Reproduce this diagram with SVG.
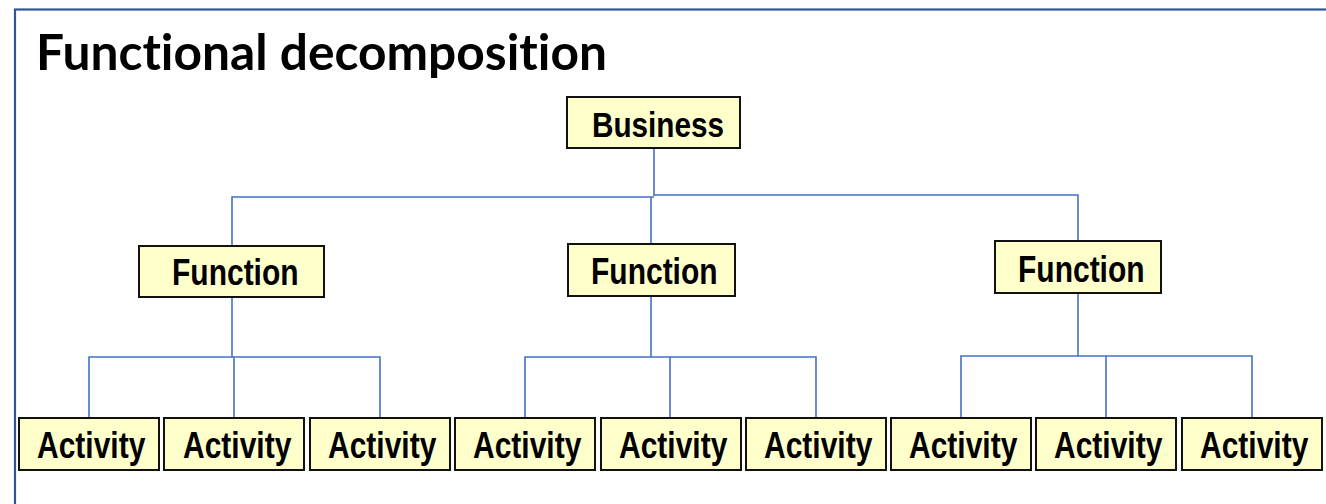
<svg xmlns="http://www.w3.org/2000/svg" width="1326" height="504" viewBox="0 0 1326 504">
<style>
.box{fill:#FFFFCC;stroke:#111;stroke-width:2}
.lbl{font-family:"Liberation Sans",Arial,sans-serif;font-weight:bold;font-size:30px;fill:#000}
.con{fill:none;stroke:#4472C4;stroke-width:1.6}
.title{font-family:Lato,"Open Sans",sans-serif;font-weight:bold;font-size:49px;fill:#000;font-variant-ligatures:none;font-feature-settings:"liga" 0,"dlig" 0}
</style>
<rect x="0" y="0" width="1326" height="504" fill="#fff"/>
<rect x="15" y="9.5" width="1400" height="600" fill="none" stroke="#2F5597" stroke-width="2.2"/>
<text class="title" x="36" y="70" textLength="571" lengthAdjust="spacingAndGlyphs">Functional decomposition</text>
<g id="connectors">
<path class="con" d="M654,148 V196" stroke-width="2"/>
<path class="con" d="M654,195 H1078 V241"/>
<path class="con" d="M232,246 V197 H654"/>
<path class="con" d="M651,197 V244"/>
<path class="con" d="M232,297 V357" stroke-width="2"/>
<path class="con" d="M89,418 V357 H380 V418"/>
<path class="con" d="M234,357 V418"/>
<path class="con" d="M651,296 V357" stroke-width="2"/>
<path class="con" d="M525,418 V357 H816 V418"/>
<path class="con" d="M670,357 V418"/>
<path class="con" d="M1078,293 V356" stroke-width="2"/>
<path class="con" d="M961,418 V356 H1252 V418"/>
<path class="con" d="M1106,356 V418"/>
</g>
<g id="business"><rect class="box" x="567" y="97" width="173" height="51"/><text class="lbl" transform="translate(592,137) scale(0.99,1.2)">Business</text></g>
<g id="function1"><rect class="box" x="139" y="246" width="185" height="51"/><text class="lbl" transform="translate(172,285) scale(1,1.2)">Function</text></g>
<g id="function2"><rect class="box" x="568" y="244" width="167" height="52"/><text class="lbl" transform="translate(591,284) scale(1,1.2)">Function</text></g>
<g id="function3"><rect class="box" x="995" y="241" width="166" height="52"/><text class="lbl" transform="translate(1018,282) scale(1,1.2)">Function</text></g>
<g id="activity1"><rect class="box" x="19" y="418" width="140" height="52"/><text class="lbl" transform="translate(37,458) scale(1,1.2)">Activity</text></g>
<g id="activity2"><rect class="box" x="164" y="418" width="140" height="52"/><text class="lbl" transform="translate(183,458) scale(1,1.2)">Activity</text></g>
<g id="activity3"><rect class="box" x="310" y="418" width="140" height="52"/><text class="lbl" transform="translate(328,458) scale(1,1.2)">Activity</text></g>
<g id="activity4"><rect class="box" x="455" y="418" width="140" height="52"/><text class="lbl" transform="translate(473,458) scale(1,1.2)">Activity</text></g>
<g id="activity5"><rect class="box" x="601" y="418" width="140" height="52"/><text class="lbl" transform="translate(619,458) scale(1,1.2)">Activity</text></g>
<g id="activity6"><rect class="box" x="746" y="418" width="140" height="52"/><text class="lbl" transform="translate(764,458) scale(1,1.2)">Activity</text></g>
<g id="activity7"><rect class="box" x="891" y="418" width="140" height="52"/><text class="lbl" transform="translate(909,458) scale(1,1.2)">Activity</text></g>
<g id="activity8"><rect class="box" x="1036" y="418" width="140" height="52"/><text class="lbl" transform="translate(1054,458) scale(1,1.2)">Activity</text></g>
<g id="activity9"><rect class="box" x="1182" y="418" width="140" height="52"/><text class="lbl" transform="translate(1200,458) scale(1,1.2)">Activity</text></g>
</svg>
